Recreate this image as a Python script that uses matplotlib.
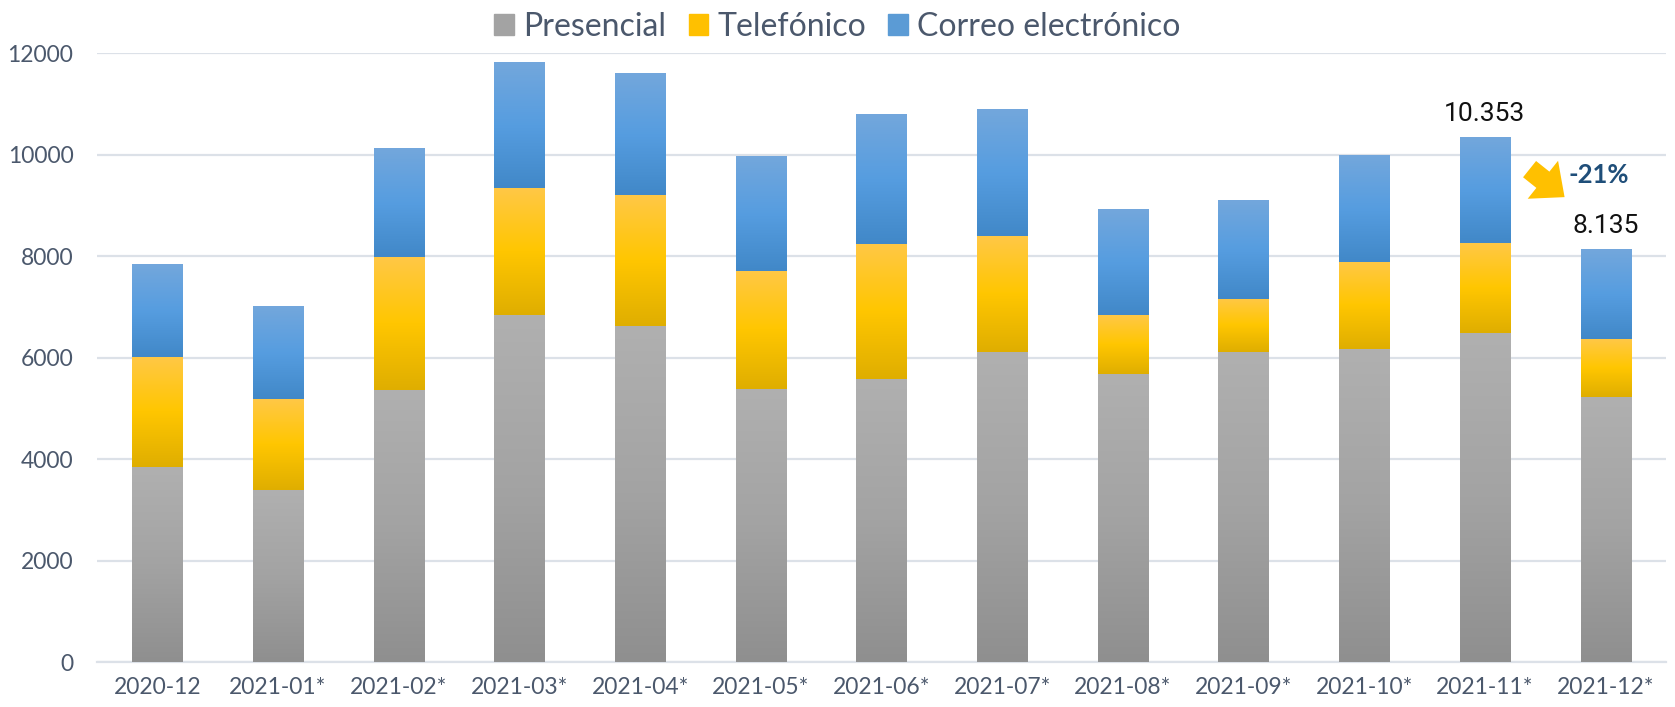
import numpy as np
import matplotlib
matplotlib.use('Agg')
import matplotlib.pyplot as plt
from matplotlib.colors import LinearSegmentedColormap
from matplotlib.patches import Patch

# -----------------------------------------------------------------------------
# data

months = ['2020-12', '2021-01*', '2021-02*', '2021-03*', '2021-04*', '2021-05*',
          '2021-06*', '2021-07*', '2021-08*', '2021-09*', '2021-10*', '2021-11*',
          '2021-12*']
presencial = [3840, 3393, 5370, 6841, 6631, 5383, 5580, 6112, 5679, 6112, 6165,
              6487, 5225]
telefonico = [2174, 1793, 2614, 2503, 2575, 2331, 2666, 2286, 1162, 1045, 1721,
              1773, 1143]
correo = [1832, 1833, 2148, 2482, 2404, 2260, 2556, 2499, 2089, 1950, 2104,
          2093, 1767]
series_names = ['Presencial', 'Telefónico', 'Correo electrónico']
yticks = [0, 2000, 4000, 6000, 8000, 10000, 12000]

# -----------------------------------------------------------------------------

TEXT = '#4B586C'
GRID = '#DCE1E8'
# gradient stops, bottom -> top of each segment
GRAY_STOPS = ['#8F8F8F', '#A3A3A3', '#B0B0B0']
YELLOW_STOPS = ['#DFAE00', '#FFC600', '#FFC846']
BLUE_STOPS = ['#4188C8', '#569DE0', '#73A7DC']
SOLID = ['#A3A3A3', '#FFC000', '#5B9BD5']


def gradient_bars(ax, bars, stops):
    '''paint a vertical gradient over each bar of a container'''
    cmap = LinearSegmentedColormap.from_list('g', stops)
    grad = np.linspace(0, 1, 256).reshape(-1, 1)
    for b in bars:
        x0, y0 = b.get_x(), b.get_y()
        w, h = b.get_width(), b.get_height()
        im = ax.imshow(grad, cmap=cmap, origin='lower', aspect='auto',
                       extent=[x0, x0 + w, y0, y0 + h], zorder=3,
                       interpolation='bilinear')
        im.set_clip_path(b)


plt.rcParams['font.family'] = ['Lato', 'DejaVu Sans']

fig = plt.figure(figsize=(16.75, 7.07), dpi=100)
ax = fig.add_axes([0.0579, 0.0636, 0.9367, 0.8609])

x = np.arange(len(months))
pres = np.array(presencial)
tel = np.array(telefonico)
cor = np.array(correo)
totals = pres + tel + cor
width = 0.415

b1 = ax.bar(x, pres, width, color=SOLID[0], zorder=2)
b2 = ax.bar(x, tel, width, bottom=pres, color=SOLID[1], zorder=2)
b3 = ax.bar(x, cor, width, bottom=pres + tel, color=SOLID[2], zorder=2)
gradient_bars(ax, b1, GRAY_STOPS)
gradient_bars(ax, b2, YELLOW_STOPS)
gradient_bars(ax, b3, BLUE_STOPS)

ax.set_xlim(-0.5, len(months) - 0.5)
ax.set_ylim(0, 12000)
ax.set_yticks(yticks)
ax.set_yticklabels([str(v) for v in yticks])
ax.set_xticks(x)
ax.set_xticklabels(months)
ax.tick_params(axis='both', length=0, labelsize=16.5, colors=TEXT)
ax.tick_params(axis='y', pad=17)
ax.tick_params(axis='x', pad=11)
ax.grid(axis='y', color=GRID, lw=1.6, zorder=0)
ax.set_axisbelow(True)
for side in ['top', 'right', 'left']:
    ax.spines[side].set_visible(False)
ax.spines['bottom'].set_color(GRID)
ax.spines['bottom'].set_linewidth(1.6)

# value labels on the last two months
for i in [len(months) - 2, len(months) - 1]:
    ax.annotate(f'{totals[i]:,}'.replace(',', '.'), (x[i], totals[i]),
                xytext=(0, 8), textcoords='offset points', ha='center',
                va='bottom', fontsize=19, color='#111111',
                family=['Roboto', 'DejaVu Sans'])

change = (totals[-1] - totals[-2]) / totals[-2] * 100
ax.annotate('', xy=(x[-2] + 0.66, 9166), xytext=(x[-2] + 0.37, 9718),
            arrowprops=dict(arrowstyle='simple,head_length=0.8,head_width=1.4,tail_width=0.6',
                            fc='#FFC000', ec='none', shrinkA=0, shrinkB=0,
                            mutation_scale=25), zorder=5)
ax.text(x[-2] + 0.94, 9600, f'{change:.0f}%', ha='center', va='center',
        fontsize=18.5, fontweight='bold', color='#1F4E79')

handles = [Patch(color=c) for c in SOLID]
fig.legend(handles, series_names, loc='center', bbox_to_anchor=(0.5, 0.962),
           ncol=3, frameon=False, fontsize=23, labelcolor=TEXT,
           handlelength=0.6, handleheight=0.6, handletextpad=0.3,
           columnspacing=0.7)

fig.savefig('out.png', dpi=100)
